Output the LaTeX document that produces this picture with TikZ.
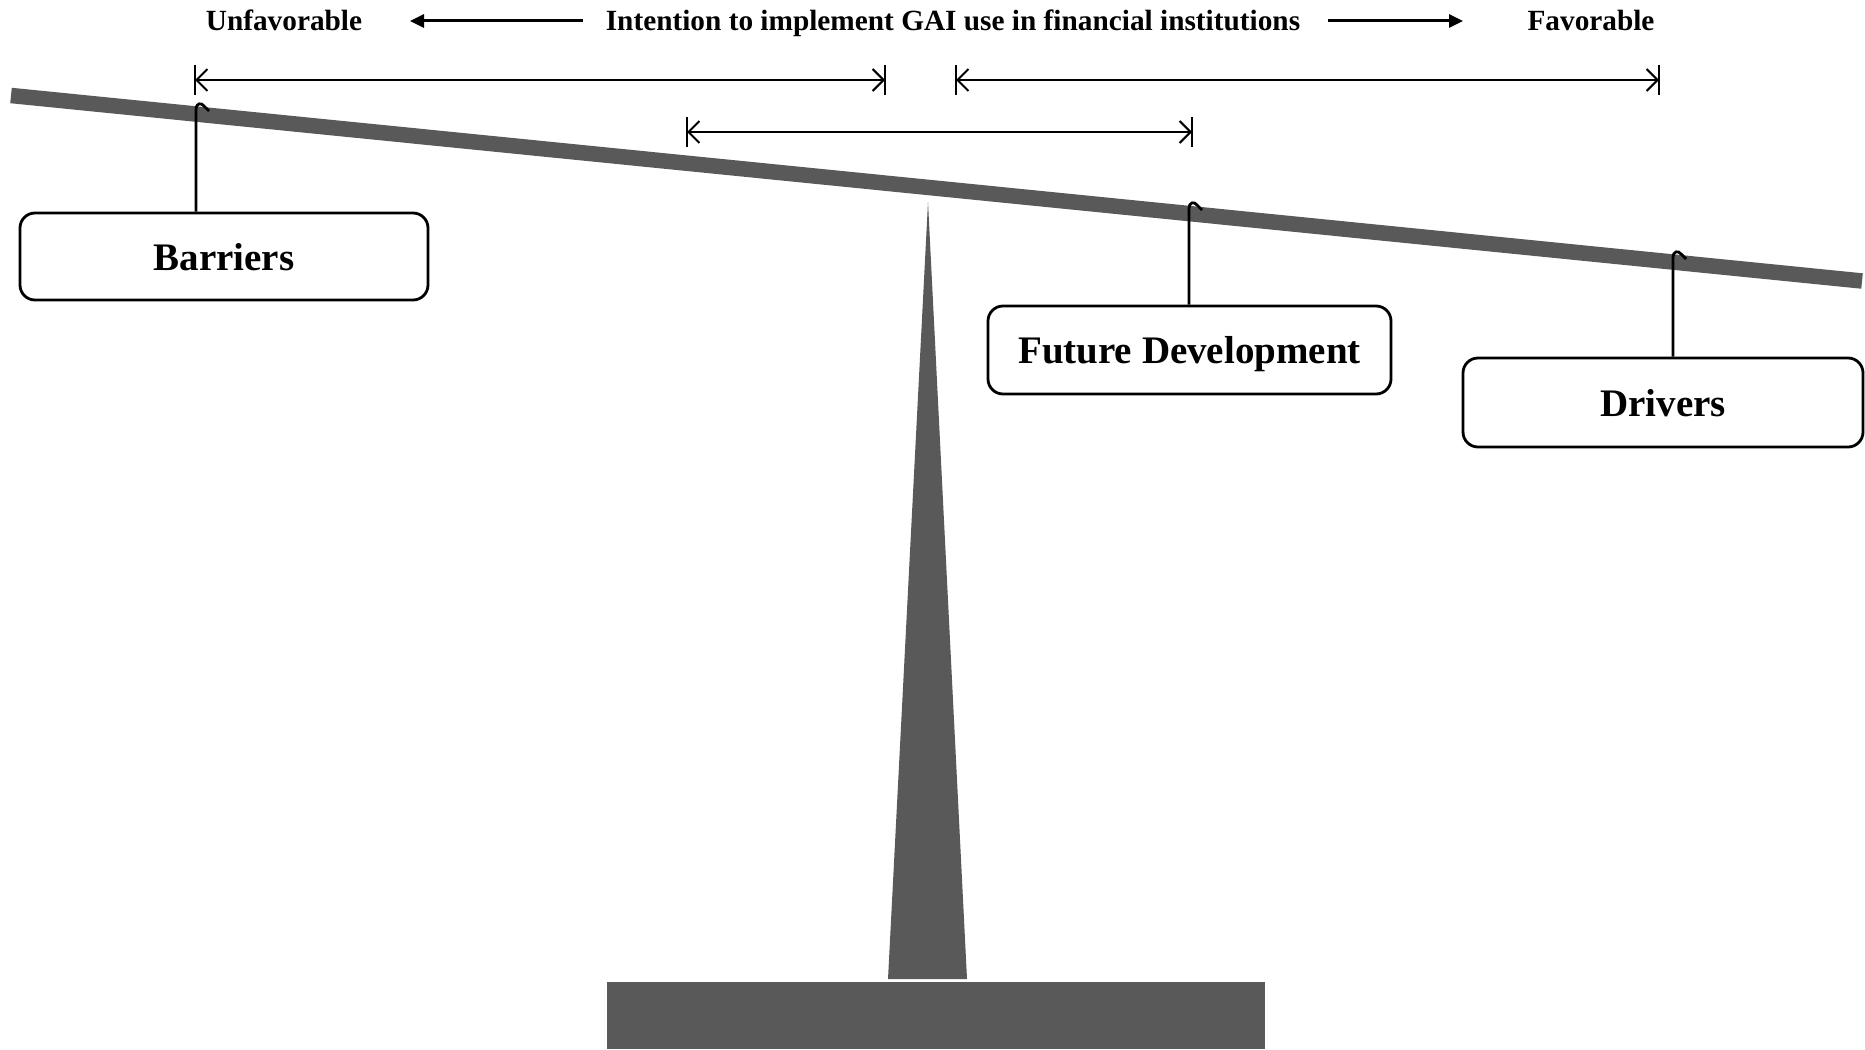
\documentclass[tikz,border=0pt]{standalone}
\usepackage{fontspec}
\setmainfont{Liberation Serif}
\usetikzlibrary{arrows.meta,calc}
\definecolor{beamgray}{RGB}{89,89,89}

\begin{document}
\begin{tikzpicture}[x=1pt,y=-1pt,
  solidgray/.style={fill=beamgray,draw=none},
  toplabel/.style={font=\fontsize{29.3}{34}\selectfont\bfseries, inner sep=0pt, anchor=base},
  weightbox/.style={draw=black, line width=2.8pt, rounded corners=15pt,
    font=\fontsize{39}{44}\selectfont\bfseries, inner sep=0pt,
    text height=27pt, text depth=0pt},
  hanger/.style={line width=2.8pt, line join=round},
  span/.style={line width=2pt,
    {Straight Barb[length=11pt,width=22pt,line width=2pt]}-{Straight Barb[length=11pt,width=22pt,line width=2pt]}},
  tickline/.style={line width=2.4pt},
  direction/.style={line width=3pt, -{Triangle[length=14pt,width=13pt]}}
]
\useasboundingbox (0,0) rectangle (1865,1049);

% stand: base block and tapering post
\fill[solidgray] (607,982) rectangle (1265,1049);
\fill[solidgray] (928,202) -- (967,979) -- (888,979) -- cycle;

% tilted beam
\coordinate (beamL) at (11,95.5);
\coordinate (beamR) at (1862,281);
\draw[beamgray, line width=15.5pt] (beamL) -- (beamR);

% heading
\node[toplabel] (unfav) at (284,31) {Unfavorable};
\node[toplabel] (intent) at (953,31) {Intention to implement GAI use in financial institutions};
\node[toplabel] (fav) at (1591,31) {Favorable};
\coordinate (larrowS) at (583,21);
\coordinate (larrowE) at (410,21);
\coordinate (rarrowS) at (1328,21);
\coordinate (rarrowE) at (1463,21);
\draw[direction] (larrowS) -- (larrowE);
\draw[direction] (rarrowS) -- (rarrowE);

% ranges
\coordinate (s1l) at (195,80);
\coordinate (s1r) at (885,80);
\coordinate (s2l) at (956,80);
\coordinate (s2r) at (1659,80);
\coordinate (s3l) at (687,132);
\coordinate (s3r) at (1192,132);
\foreach \p in {s1l,s1r,s2l,s2r,s3l,s3r}{
  \draw[tickline] ($(\p)+(0,-15)$) -- ($(\p)+(0,15)$);
}
\draw[span] (s1l) -- (s1r);
\draw[span] (s2l) -- (s2r);
\draw[span] (s3l) -- (s3r);

% weights
\node[weightbox, minimum width=408pt, minimum height=87pt] (barriers) at (224,256.5) {Barriers};
\node[weightbox, minimum width=403pt, minimum height=88pt] (future) at (1189.5,350) {Future Development};
\node[weightbox, minimum width=400pt, minimum height=89pt] (drivers) at (1663,402.5) {Drivers};

% hooks on the beam (each point sits at the top of a hook)
\coordinate (hookB) at (196,104);
\coordinate (hookF) at (1189,203);
\coordinate (hookD) at (1673,252);
\foreach \h/\n in {hookB/barriers,hookF/future,hookD/drivers}{
  \draw[hanger] (\n.north -| \h) -- ($(\h)+(0,6)$)
    .. controls ($(\h)+(0,-1)$) and ($(\h)+(5,-2)$) .. ($(\h)+(8,2)$)
    -- ($(\h)+(13,7)$);
}
\end{tikzpicture}
\end{document}
